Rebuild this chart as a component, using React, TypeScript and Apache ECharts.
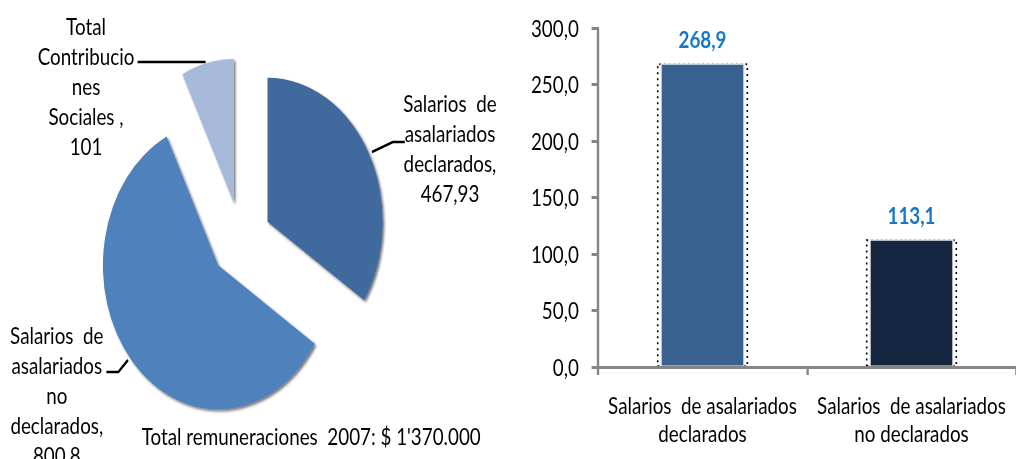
import React, { useEffect, useRef } from "react";
import * as echarts from "echarts";

// ---- Data ----
const pieNames = [
  "Salarios de asalariados declarados",
  "Salarios de asalariados no declarados",
  "Total Contribuciones Sociales",
];
const pieValues = [467.93, 800.8, 101];
const pieColors = ["#406A9D", "#4F81BD", "#A8BADA"];
// wrapped label names as shown in the picture
const pieLabelNames = [
  "Salarios  de\nasalariados\ndeclarados",
  "Salarios  de\nasalariados\nno\ndeclarados",
  "Total\nContribucio\nnes\nSociales ",
];
const pieNote = "Total remuneraciones  2007: $ 1'370.000";

const barCategories = [
  "Salarios  de asalariados\ndeclarados",
  "Salarios  de asalariados\nno declarados",
];
const barValues = [268.9, 113.1];
const barColors = ["#38618F", "#14253F"];
const yTicks = [0, 50, 100, 150, 200, 250, 300];

const SX = 0.8; // horizontal condensation of the whole picture
const W = 1016 / SX;
const H = 459;
const FONT = "Lato, 'Open Sans', sans-serif";
const FS = 23.5;
const TXT = "#000";

const fmt = (v: number) => String(v).replace(".", ",");

export default function App() {
  const ref = useRef<HTMLDivElement>(null);
  useEffect(() => {
    if (!ref.current) return;
    const chart = echarts.init(ref.current, undefined, { renderer: "svg" });
    const labelStyle = {
      fontFamily: FONT,
      fontSize: FS,
      lineHeight: 30,
      fill: TXT,
      align: "center",
      verticalAlign: "top",
    };
    chart.setOption({
      animation: false,
      backgroundColor: "#fff",
      grid: { left: 747.5, right: 0, top: 28, bottom: 92, containLabel: false },
      xAxis: [
        {
          type: "category",
          data: barCategories,
          axisLine: { lineStyle: { color: "#868686", width: 3 } },
          axisTick: { show: true, length: 8, lineStyle: { color: "#868686", width: 3 } },
          axisLabel: {
            color: TXT,
            fontFamily: FONT,
            fontSize: FS,
            lineHeight: 28,
            margin: 24,
            interval: 0,
          },
          z: 5,
        },
        {
          type: "category",
          data: barCategories,
          show: false,
          position: "bottom",
        },
      ],
      yAxis: {
        type: "value",
        min: 0,
        max: yTicks[yTicks.length - 1],
        interval: 50,
        axisLine: { show: true, lineStyle: { color: "#868686", width: 3 } },
        axisTick: { show: true, length: 8, lineStyle: { color: "#868686", width: 3 } },
        splitLine: { show: false },
        axisLabel: {
          color: TXT,
          fontFamily: FONT,
          fontSize: FS,
          margin: 24,
          formatter: (v: number) => v.toFixed(1).replace(".", ","),
        },
      },
      series: [
        {
          type: "bar",
          xAxisIndex: 1,
          barWidth: 114,
          silent: true,
          z: 1,
          data: barValues.map((v) => ({
            value: v,
            itemStyle: {
              color: "rgba(0,0,0,0)",
              borderColor: "#000",
              borderWidth: 2,
              borderType: [2, 4],
            },
          })),
        },
        {
          type: "bar",
          xAxisIndex: 0,
          barWidth: 105,
          z: 2,
          data: barValues.map((v, i) => ({
            value: v,
            itemStyle: {
              color: barColors[i],
              borderColor: "#E6EBF2",
              borderWidth: 1.5,
            },
          })),
          label: {
            show: true,
            position: "top",
            distance: 12,
            color: "#1677C9",
            fontFamily: FONT,
            fontSize: FS,
            fontWeight: "bold",
            formatter: (p: any) => p.value.toFixed(1).replace(".", ","),
          },
        },
        {
          type: "pie",
          center: [301, 240],
          radius: 144,
          startAngle: 90,
          clockwise: true,
          selectedMode: "multiple",
          selectedOffset: 38,
          label: { show: false },
          labelLine: { show: false },
          emphasis: { disabled: true },
          data: pieValues.map((v, i) => ({
            name: pieNames[i],
            value: v,
            selected: true,
            itemStyle: {
              color: pieColors[i],
              shadowColor: "rgba(0,0,0,0.55)",
              shadowBlur: 3,
              shadowOffsetX: 2,
              shadowOffsetY: 2,
            },
            select: { itemStyle: { color: pieColors[i] } },
          })),
        },
      ],
      graphic: [
        {
          type: "text",
          x: 107.5,
          y: 11,
          style: { ...labelStyle, text: pieLabelNames[2] + ",\n" + fmt(pieValues[2]) },
        },
        {
          type: "polyline",
          shape: { points: [[172, 62], [257, 62]] },
          style: { stroke: "#000", lineWidth: 2.5, fill: "none" },
        },
        {
          type: "text",
          x: 562.5,
          y: 88,
          style: { ...labelStyle, text: pieLabelNames[0] + ",\n" + fmt(pieValues[0]) },
        },
        {
          type: "polyline",
          shape: { points: [[465, 152], [491, 142], [506, 142]] },
          style: { stroke: "#000", lineWidth: 2.5, fill: "none" },
        },
        {
          type: "text",
          x: 71,
          y: 320,
          style: { ...labelStyle, text: pieLabelNames[1] + ",\n" + fmt(pieValues[1]) },
        },
        {
          type: "polyline",
          shape: { points: [[133, 372], [148, 372], [160, 360]] },
          style: { stroke: "#000", lineWidth: 2.5, fill: "none" },
        },
        {
          type: "text",
          x: 389,
          y: 421,
          style: { ...labelStyle, text: pieNote },
        },
      ],
    });
    return () => chart.dispose();
  }, []);
  return (
    <div
      style={{
        position: "fixed",
        left: 0,
        top: 0,
        width: 1016,
        height: H,
        overflow: "hidden",
        background: "#fff",
      }}
    >
      <div
        ref={ref}
        style={{
          width: W,
          height: H,
          transform: `scaleX(${SX})`,
          transformOrigin: "0 0",
        }}
      />
    </div>
  );
}
